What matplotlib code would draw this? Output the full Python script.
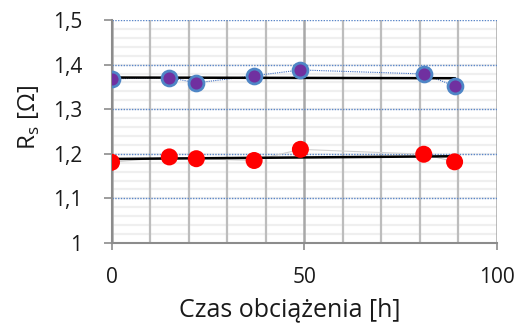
import matplotlib
matplotlib.use("Agg")
import matplotlib.pyplot as plt
import numpy as np
from matplotlib.ticker import MultipleLocator, FuncFormatter

plt.rcParams['font.family'] = ['Open Sans', 'DejaVu Sans']

hours = [0, 15, 22, 37, 49, 81, 89]
rs_purple = [1.368, 1.371, 1.359, 1.375, 1.388, 1.379, 1.352]
rs_red = [1.181, 1.193, 1.189, 1.185, 1.210, 1.199, 1.182]

x_ticks = [0, 50, 100]
y_ticks = [1.0, 1.1, 1.2, 1.3, 1.4, 1.5]

fig = plt.figure(figsize=(5.19, 3.27), dpi=100)
ax = fig.add_axes([111.5/519, 1 - 243/327, (497-111.5)/519, (243-20)/327])

ax.set_xlim(0, 100)
ax.set_ylim(1.0, 1.5)

# minor horizontal grid (light)
for yv in np.arange(1.02, 1.5, 0.02):
    ax.axhline(yv, color='#efefef', linewidth=1.6, zorder=0.1)

ax.set_axisbelow(True)
ax.xaxis.set_minor_locator(MultipleLocator(10))
ax.grid(which='minor', axis='x', color='#bdbdbd', linewidth=1.6)
ax.grid(which='major', axis='x', color='#a8a8a8', linewidth=1.8)
ax.grid(which='major', axis='y', color='#5a86c8', linewidth=1.0, linestyle=(0, (1, 1)))

x = np.array(hours)
# connecting lines
ax.plot(hours, rs_purple, color='#4472c4', linewidth=0.8, linestyle=(0, (1, 1)), zorder=2)
ax.plot(hours, rs_red, color='#d0d0d0', linewidth=0.8, zorder=2)

# trend lines
for ys in (rs_purple, rs_red):
    p = np.polyfit(x, ys, 1)
    xx = np.array([x.min(), x.max()])
    ax.plot(xx, np.polyval(p, xx), color='black', linewidth=1.8, zorder=3)

ax.scatter(hours, rs_purple, s=115, color='#7030a0', edgecolors='#4f86c6', linewidths=2.0, zorder=4)
ax.scatter(hours, rs_red, s=150, color='#ff0000', edgecolors='none', zorder=4)

ax.set_xticks(x_ticks)
ax.set_yticks(y_ticks)
ax.yaxis.set_major_formatter(FuncFormatter(lambda v, p: ('%g' % round(v, 1)).replace('.', ',')))
ax.tick_params(axis='both', which='major', labelsize=15, width=1.2, color='#8c8c8c', labelcolor='#1a1a1a')
ax.tick_params(axis='x', which='major', length=5, pad=12.5)
ax.tick_params(axis='y', which='major', length=6, pad=15)
ax.tick_params(which='minor', length=0)

for s in ('top', 'right'):
    ax.spines[s].set_visible(False)
for s in ('left', 'bottom'):
    ax.spines[s].set_color('#8c8c8c')
    ax.spines[s].set_linewidth(1.5)

ax.set_xlabel('Czas obciążenia [h]', fontsize=18, color='#1a1a1a')
ax.xaxis.set_label_coords(0.463, -0.245)
ax.set_ylabel('R$_\\mathregular{s}$ [Ω]', fontsize=17.5, color='#1a1a1a')
ax.yaxis.set_label_coords(-0.18, 0.565)

fig.savefig('out.png', dpi=100)
